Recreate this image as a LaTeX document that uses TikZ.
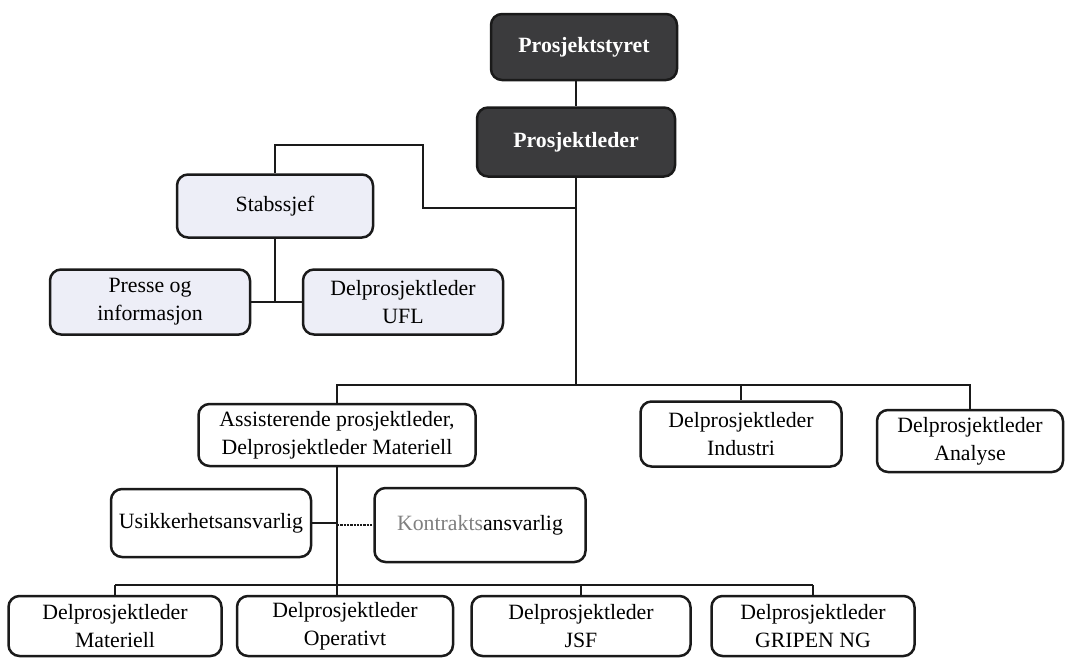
\documentclass[tikz,border=0pt]{standalone}
\usepackage{fontspec}
\setmainfont{Liberation Serif}
\usepackage{tikz}
\definecolor{boardc}{HTML}{3B3B3D}
\definecolor{staffc}{HTML}{EDEEF7}
\definecolor{linec}{HTML}{1A1A1A}
\definecolor{greytext}{HTML}{808080}

\begin{document}
\begin{tikzpicture}[x=1pt, y=-1pt,
  orgbox/.style={draw=linec, line width=2.5pt, rounded corners=11pt, fill=white,
    align=center, inner sep=3pt, font=\fontsize{21.8}{28}\selectfont},
  boardbox/.style={orgbox, fill=boardc, text=white, font=\fontsize{21.8}{28}\selectfont\bfseries},
  staffbox/.style={orgbox, fill=staffc},
  link/.style={draw=linec, line width=2.3pt}]
  \useasboundingbox (0,0) rectangle (1066,657);

  % project board and leader
  \node[boardbox, minimum width=186pt, minimum height=66pt] (styret) at (584,47) {Prosjektstyret};
  \node[boardbox, minimum width=198pt, minimum height=69pt] (leder) at (576,142) {Prosjektleder};

  % staff
  \node[staffbox, minimum width=196pt, minimum height=63pt] (stab) at (275,206) {Stabssjef};
  \node[staffbox, minimum width=200pt, minimum height=65pt] (presse) at (150,302) {Presse og\\informasjon};
  \node[staffbox, minimum width=200pt, minimum height=65pt] (ufl) at (403,302) {Delprosjektleder\\UFL};

  % second level
  \node[orgbox, minimum width=277pt, minimum height=62pt] (assist) at (337,435) {Assisterende prosjektleder,\\Delprosjektleder Materiell};
  \node[orgbox, minimum width=201pt, minimum height=65pt] (industri) at (741,434) {Delprosjektleder\\Industri};
  \node[orgbox, minimum width=186pt, minimum height=62pt] (analyse) at (970,441) {Delprosjektleder\\Analyse};
  \node[orgbox, minimum width=200pt, minimum height=68pt] (usikker) at (211,523) {Usikkerhetsansvarlig};
  \node[orgbox, minimum width=211pt, minimum height=74pt] (kontrakt) at (480,525) {{\color{greytext}Kontrakts}ansvarlig};

  % sub projects
  \node[orgbox, minimum width=213pt, minimum height=60pt] (mat) at (115,626) {Delprosjektleder\\Materiell};
  \node[orgbox, minimum width=216pt, minimum height=60pt] (opr) at (345,626) {Delprosjektleder\\Operativt};
  \node[orgbox, minimum width=219pt, minimum height=60pt] (jsf) at (581,626) {Delprosjektleder\\JSF};
  \node[orgbox, minimum width=203pt, minimum height=60pt] (gripen) at (813,626) {Delprosjektleder\\GRIPEN NG};

  \coordinate (staffkink) at (423,145);
  \coordinate (bus1) at (576,385);
  \coordinate (bus2) at (576,585);

  % lines
  \draw[link] (leder.north |- styret.south) -- (leder.north);
  \draw[link] (leder.south) -- (leder.south |- bus1);
  \draw[link] (leder.south) ++(0,30) -| (staffkink) -| (stab.north);
  \draw[link] (stab.south) -- (stab.south |- presse.east);
  \draw[link] (presse.east) -- (ufl.west);
  \draw[link] (assist.north) -- (assist.north |- bus1) -- (analyse.north |- bus1) -- (analyse.north);
  \draw[link] (industri.north |- bus1) -- (industri.north);
  \draw[link] (assist.south) -- (assist.south |- opr.north);
  \draw[link] (usikker.east) -- (usikker.east -| assist.south);
  \draw[link, densely dotted] (kontrakt.west -| assist.south) -- (kontrakt.west);
  \draw[link] (mat.north |- bus2) -- (gripen.north |- bus2);
  \draw[link] (mat.north |- bus2) -- (mat.north);
  \draw[link] (jsf.north |- bus2) -- (jsf.north);
  \draw[link] (gripen.north |- bus2) -- (gripen.north);
\end{tikzpicture}
\end{document}
